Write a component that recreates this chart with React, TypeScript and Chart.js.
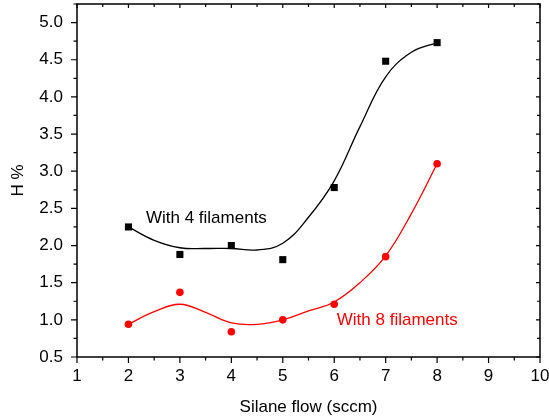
import React, { useEffect, useRef } from "react";
import { Chart, registerables } from "chart.js";

Chart.register(...registerables);

// Measured points
const flowValues = [2, 3, 4, 5, 6, 7, 8];
const h4Filaments = [2.25, 1.88, 2.0, 1.81, 2.78, 4.48, 4.73];
const h8Filaments = [0.94, 1.37, 0.84, 1.0, 1.21, 1.85, 3.1];

// Smoothed fit curves
const curveX = [2, 2.5, 3, 3.5, 4, 4.5, 5, 5.5, 6, 6.5, 7, 7.5, 8];
const curve4 = [2.25, 2.07, 1.97, 1.96, 1.96, 1.94, 2.03, 2.38, 2.87, 3.6, 4.27, 4.6, 4.73];
const curve8 = [0.94, 1.11, 1.21, 1.1, 0.96, 0.94, 1.0, 1.12, 1.24, 1.5, 1.86, 2.43, 3.1];

// Axis ticks
const xTickValues = [1, 2, 3, 4, 5, 6, 7, 8, 9, 10];
const yTickValues = [0.5, 1.0, 1.5, 2.0, 2.5, 3.0, 3.5, 4.0, 4.5, 5.0];

// Labels
const label4 = "With 4 filaments";
const label8 = "With 8 filaments";
const label4Pos = [2.34, 2.37];
const label8Pos = [6.05, 1.0];

const FONT = "'Liberation Sans', Arial, sans-serif";

const zeroPad = (s: any) => {
  s.paddingTop = 0;
  s.paddingBottom = 0;
  s.paddingLeft = 0;
  s.paddingRight = 0;
};

const framePlugin = {
  id: "frameTicks",
  afterDraw(chart: any) {
    const { ctx, chartArea } = chart;
    const xs = chart.scales.x;
    const ys = chart.scales.y;
    const { left, right, top, bottom } = chartArea;
    ctx.save();
    ctx.strokeStyle = "#000";
    ctx.lineWidth = 1.5;
    ctx.strokeRect(left, top, right - left, bottom - top);
    ctx.lineWidth = 1.2;
    ctx.beginPath();
    for (let i = 0; i < xTickValues.length; i++) {
      const v = xTickValues[i];
      const px = xs.getPixelForValue(v);
      ctx.moveTo(px, bottom);
      ctx.lineTo(px, bottom + 6);
      ctx.moveTo(px, top);
      ctx.lineTo(px, top + 4);
      if (i < xTickValues.length - 1) {
        const mv = (v + xTickValues[i + 1]) / 2;
        const mp = xs.getPixelForValue(mv);
        ctx.moveTo(mp, bottom);
        ctx.lineTo(mp, bottom + 3.5);
        ctx.moveTo(mp, top);
        ctx.lineTo(mp, top + 3);
      }
    }
    const yAll = [...yTickValues, 5.5];
    for (let i = 0; i < yAll.length; i++) {
      const v = yAll[i];
      if (v <= ys.max) {
        const py = ys.getPixelForValue(v);
        ctx.moveTo(left, py);
        ctx.lineTo(left - 6, py);
        ctx.moveTo(right, py);
        ctx.lineTo(right - 4, py);
      }
      if (i < yAll.length - 1) {
        const mv = (v + yAll[i + 1]) / 2;
        if (mv <= ys.max) {
          const mp = ys.getPixelForValue(mv);
          ctx.moveTo(left, mp);
          ctx.lineTo(left - 3.5, mp);
          ctx.moveTo(right, mp);
          ctx.lineTo(right - 3, mp);
        }
      }
    }
    ctx.stroke();
    ctx.font = `17px ${FONT}`;
    ctx.textAlign = "left";
    ctx.textBaseline = "middle";
    ctx.fillStyle = "#000";
    ctx.fillText(label4, xs.getPixelForValue(label4Pos[0]), ys.getPixelForValue(label4Pos[1]));
    ctx.fillStyle = "#ff0000";
    ctx.fillText(label8, xs.getPixelForValue(label8Pos[0]), ys.getPixelForValue(label8Pos[1]));
    ctx.restore();
  },
};

export default function App() {
  const ref = useRef<HTMLCanvasElement>(null);
  useEffect(() => {
    if (!ref.current) return;
    const pts = (xs: number[], ys: number[]) => xs.map((x, i) => ({ x, y: ys[i] }));
    const chart = new Chart(ref.current, {
      type: "scatter",
      data: {
        datasets: [
          {
            data: pts(curveX, curve4),
            showLine: true,
            borderColor: "#000",
            borderWidth: 1.3,
            pointRadius: 0,
            tension: 0.4,
          },
          {
            data: pts(curveX, curve8),
            showLine: true,
            borderColor: "#ff0000",
            borderWidth: 1.3,
            pointRadius: 0,
            tension: 0.4,
          },
          {
            data: pts(flowValues, h4Filaments),
            showLine: false,
            pointStyle: "rect",
            pointRadius: 5,
            backgroundColor: "#000",
            borderColor: "#000",
            borderWidth: 0,
          },
          {
            data: pts(flowValues, h8Filaments),
            showLine: false,
            pointStyle: "circle",
            pointRadius: 3.8,
            backgroundColor: "#ff0000",
            borderColor: "#ff0000",
            borderWidth: 0,
          },
        ],
      } as any,
      options: {
        animation: false,
        responsive: true,
        maintainAspectRatio: false,
        layout: { autoPadding: false, padding: { top: 4, right: 9, left: 0, bottom: 0 } },
        plugins: { legend: { display: false }, tooltip: { enabled: false } },
        scales: {
          x: {
            type: "linear",
            min: 1,
            max: 10,
            grid: { display: false, drawTicks: false },
            border: { display: false },
            afterBuildTicks: (s: any) => {
              s.ticks = xTickValues.map((v) => ({ value: v }));
            },
            afterFit: (s: any) => {
              s.height = 61;
              zeroPad(s);
            },
            ticks: {
              color: "#000",
              padding: 9,
              font: { family: FONT, size: 17 },
              callback: (v: any) => String(v),
            },
            title: {
              display: true,
              text: "Silane flow (sccm)",
              color: "#000",
              padding: { top: 0, bottom: 0 },
              font: { family: FONT, size: 17 },
            },
          },
          y: {
            type: "linear",
            min: 0.5,
            max: 5.25,
            grid: { display: false, drawTicks: false },
            border: { display: false },
            afterBuildTicks: (s: any) => {
              s.ticks = yTickValues.map((v) => ({ value: v }));
            },
            afterFit: (s: any) => {
              s.width = 77;
              zeroPad(s);
            },
            ticks: {
              color: "#000",
              padding: 14,
              font: { family: FONT, size: 17 },
              callback: (v: any) => Number(v).toFixed(1),
            },
            title: {
              display: true,
              text: "H %",
              color: "#000",
              padding: { top: 8, bottom: 0 },
              font: { family: FONT, size: 17 },
            },
          },
        },
      } as any,
      plugins: [framePlugin],
    });
    return () => chart.destroy();
  }, []);
  return (
    <div style={{ position: "fixed", left: 0, top: 0, width: 549, height: 418, background: "#fff" }}>
      <canvas ref={ref} />
    </div>
  );
}
